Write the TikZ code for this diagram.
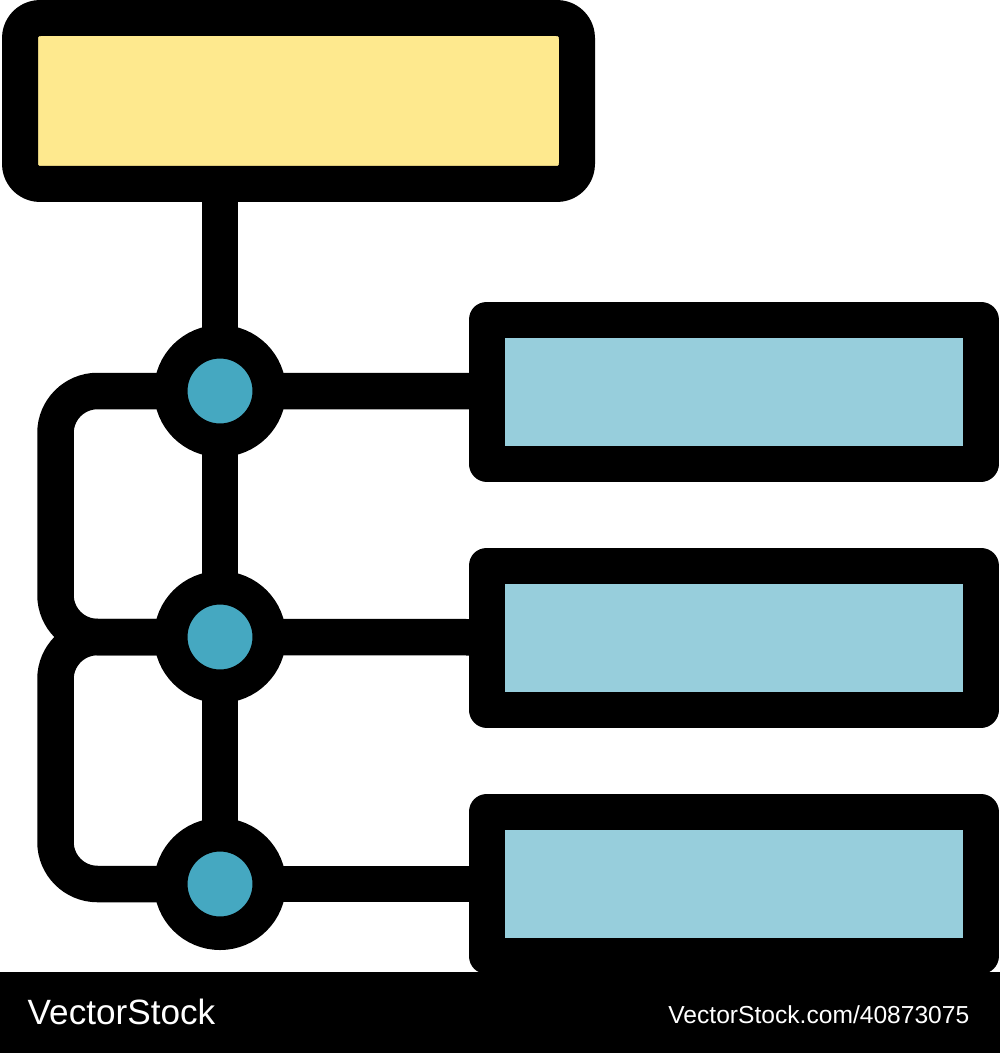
\documentclass[tikz,border=0pt]{standalone}
\usepackage{fontspec}
\setmainfont{Liberation Sans}
\definecolor{headyellow}{HTML}{FEE98E}
\definecolor{itemblue}{HTML}{97CEDC}
\definecolor{dotblue}{HTML}{45A8C1}
\begin{document}
\begin{tikzpicture}[x=0.1mm,y=-0.1mm,
    link/.style={draw=black,line width=3.65mm},
    item/.style={draw=black,line width=3.6mm,line join=round,fill=itemblue,minimum width=49.45mm,minimum height=14.4mm,inner sep=0pt,outer sep=0pt},
    dot/.style={circle,draw=black,line width=3.35mm,fill=dotblue,minimum size=9.85mm,inner sep=0pt,outer sep=0pt}]
    \useasboundingbox (0,0) rectangle (1000,1053);
    \node[item,fill=headyellow,minimum width=55.7mm,minimum height=16.6mm,rounded corners=2mm] (head) at (298.5,101) {};
    \node[dot] (dot1) at (220,391) {};
    \node[dot] (dot2) at (220,637) {};
    \node[dot] (dot3) at (220,884) {};
    \node[item] (item1) at (733.75,391.5) {};
    \node[item] (item2) at (733.75,637.5) {};
    \node[item] (item3) at (733.75,884) {};
    \coordinate (bend2) at (55.5,637);
    \draw[link] (head.south -| dot1) -- (dot1);
    \draw[link] (dot1) -- (dot2);
    \draw[link] (dot2) -- (dot3);
    \draw[link] (dot1) -- (item1);
    \draw[link] (dot2) -- (item2);
    \draw[link] (dot3) -- (item3);
    \draw[link,rounded corners=4.2mm] (dot1.west) -| (bend2) -- (dot2.west);
    \draw[link,rounded corners=4.2mm] (dot2.west) -- (bend2) |- (dot3.west);
    \fill[black] (0,972) rectangle (1000,1053);
    \node[anchor=base west,inner sep=0pt,text=white,font=\fontsize{10}{12}\selectfont] (brand) at (27,1024) {VectorStock};
    \node[anchor=base east,inner sep=0pt,text=white,font=\fontsize{7}{8}\selectfont] (imageid) at (970,1023) {VectorStock.com/40873075};
\end{tikzpicture}
\end{document}
